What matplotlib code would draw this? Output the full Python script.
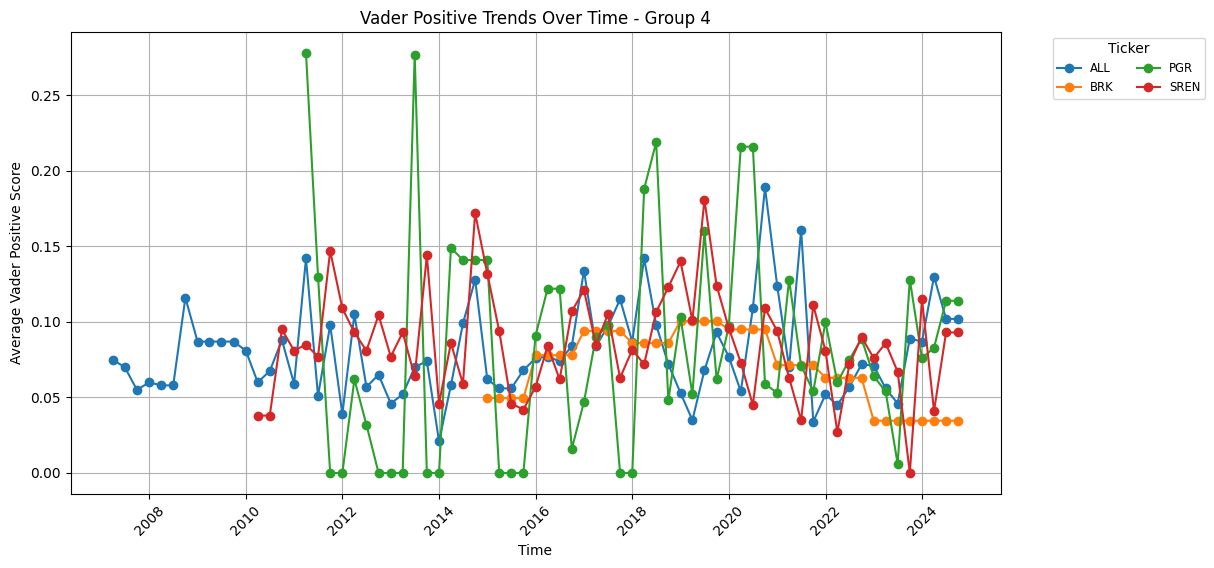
import numpy as np
import pandas as pd
import matplotlib
matplotlib.use("Agg")
import matplotlib.pyplot as plt

# quarterly average Vader positive score per ticker (quarter-end dates)
all_vals = [0.075, 0.070, 0.055, 0.060,
            0.058, 0.058, 0.116, 0.087,
            0.087, 0.087, 0.087, 0.081,
            0.060, 0.0675, 0.088, 0.059,
            0.142, 0.051, 0.098, 0.039,
            0.105, 0.057, 0.065, 0.046,
            0.052, 0.070, 0.074, 0.021,
            0.058, 0.099, 0.128, 0.062,
            0.056, 0.056, 0.068, 0.076,
            0.077, 0.074, 0.084, 0.134,
            0.084, 0.097, 0.115, 0.087,
            0.142, 0.098, 0.072, 0.053,
            0.035, 0.068, 0.093, 0.077,
            0.054, 0.109, 0.189, 0.124,
            0.070, 0.161, 0.034, 0.052,
            0.045, 0.057, 0.072, 0.071,
            0.056, 0.046, 0.089, 0.087,
            0.130, 0.102, 0.102]

brk_vals = [0.0496,
            0.0496, 0.0496, 0.0496, 0.078,
            0.078, 0.078, 0.078, 0.094,
            0.094, 0.094, 0.094, 0.086,
            0.086, 0.086, 0.086, 0.1007,
            0.1007, 0.1007, 0.1007, 0.095,
            0.095, 0.095, 0.095, 0.0714,
            0.0714, 0.0714, 0.0714, 0.063,
            0.063, 0.063, 0.063, 0.0346,
            0.0346, 0.0346, 0.0346, 0.0346,
            0.0346, 0.0346, 0.0346]

pgr_vals = [0.278, 0.130, 0.0, 0.0,
            0.062, 0.032, 0.0, 0.0,
            0.0, 0.277, 0.0, 0.0,
            0.149, 0.141, 0.141, 0.141,
            0.0, 0.0, 0.0, 0.091,
            0.122, 0.122, 0.016, 0.047,
            0.090, 0.098, 0.0, 0.0,
            0.188, 0.219, 0.048, 0.103,
            0.052, 0.160, 0.062, 0.097,
            0.216, 0.216, 0.059, 0.053,
            0.128, 0.071, 0.054, 0.100,
            0.060, 0.075, 0.089, 0.064,
            0.054, 0.006, 0.128, 0.076,
            0.083, 0.114, 0.114]

sren_vals = [0.038, 0.038, 0.095, 0.081,
             0.085, 0.077, 0.147, 0.109,
             0.093, 0.081, 0.1045, 0.077,
             0.093, 0.064, 0.144, 0.046,
             0.086, 0.059, 0.172, 0.132,
             0.094, 0.046, 0.042, 0.057,
             0.084, 0.062, 0.107, 0.121,
             0.085, 0.105, 0.063, 0.0815,
             0.072, 0.1065, 0.123, 0.140,
             0.101, 0.181, 0.124, 0.096,
             0.073, 0.045, 0.109, 0.094,
             0.063, 0.035, 0.111, 0.081,
             0.027, 0.072, 0.090, 0.076,
             0.086, 0.067, 0.000, 0.115,
             0.041, 0.093, 0.093]

tickers = ["ALL", "BRK", "PGR", "SREN"]
starts = ["2007-03-31", "2014-12-31", "2011-03-31", "2010-03-31"]
series = [all_vals, brk_vals, pgr_vals, sren_vals]

fig = plt.figure(figsize=(12.14, 5.68), dpi=100)
W, H = 1214, 568
ax = fig.add_axes([70.5 / W, (H - 494) / H, (1000.5 - 70.5) / W, (494 - 32) / H])

for name, start, vals in zip(tickers, starts, series):
    dates = pd.date_range(start=start, periods=len(vals), freq="QE")
    ax.plot(dates, vals, marker="o", label=name)

ax.set_title("Vader Positive Trends Over Time - Group 4")
ax.set_xlabel("Time")
ax.set_ylabel("Average Vader Positive Score")
ax.tick_params(axis="x", rotation=45)
ax.grid(True)
ax.legend(title="Ticker", bbox_to_anchor=(1.05, 1), loc="upper left",
          ncol=2, fontsize="small")

fig.savefig("out.png", dpi=100)
